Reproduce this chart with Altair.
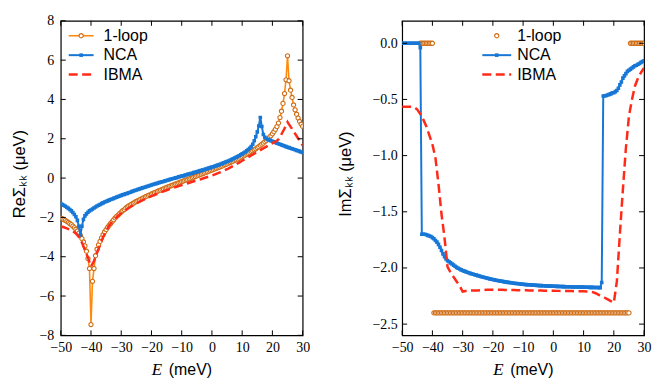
import altair as alt
import pandas as pd

# energy grid (meV)
E = [round(-50 + 0.5 * i, 1) for i in range(161)]
E_IBMA = list(range(-50, 31))

RE_1LOOP = [
    -2.03, -2.07, -2.11, -2.15, -2.20, -2.25, -2.31, -2.37, -2.44, -2.52,
    -2.60, -2.69, -2.80, -2.93, -3.08, -3.25, -3.45, -3.72, -4.10, -4.60,
    -7.45, -5.25, -4.60, -3.95, -3.62, -3.40, -3.22, -3.04, -2.88, -2.74,
    -2.62, -2.51, -2.41, -2.31, -2.22, -2.12, -2.03, -1.95, -1.88, -1.80,
    -1.73, -1.66, -1.60, -1.53, -1.47, -1.42, -1.37, -1.32, -1.28, -1.23,
    -1.19, -1.15, -1.11, -1.07, -1.03, -0.99, -0.95, -0.92, -0.88, -0.85,
    -0.81, -0.78, -0.74, -0.71, -0.68, -0.64, -0.61, -0.58, -0.55, -0.51,
    -0.48, -0.45, -0.42, -0.39, -0.36, -0.33, -0.30, -0.27, -0.24, -0.21,
    -0.18, -0.15, -0.12, -0.09, -0.07, -0.04, -0.01, 0.02, 0.05, 0.08,
    0.11, 0.14, 0.17, 0.20, 0.23, 0.26, 0.29, 0.32, 0.35, 0.38,
    0.41, 0.44, 0.47, 0.50, 0.53, 0.56, 0.59, 0.62, 0.66, 0.69,
    0.72, 0.76, 0.79, 0.83, 0.86, 0.90, 0.93, 0.97, 1.01, 1.05,
    1.09, 1.13, 1.17, 1.21, 1.25, 1.30, 1.35, 1.39, 1.44, 1.49,
    1.55, 1.60, 1.66, 1.72, 1.78, 1.85, 1.92, 1.99, 2.07, 2.15,
    2.25, 2.36, 2.48, 2.62, 2.80, 3.08, 3.40, 3.80, 4.30, 5.00,
    6.22, 4.95, 4.47, 4.10, 3.72, 3.47, 3.25, 3.05, 2.88, 2.74,
    2.63,
]

RE_NCA = [
    -1.30, -1.34, -1.38, -1.43, -1.48, -1.54, -1.60, -1.67, -1.75, -1.85,
    -1.97, -2.15, -2.45, -2.90, -2.45, -2.10, -1.92, -1.82, -1.74, -1.67,
    -1.62, -1.57, -1.52, -1.47, -1.42, -1.38, -1.34, -1.30, -1.26, -1.22,
    -1.19, -1.16, -1.12, -1.09, -1.06, -1.03, -1.00, -0.97, -0.94, -0.91,
    -0.88, -0.85, -0.83, -0.80, -0.78, -0.75, -0.72, -0.69, -0.66, -0.63,
    -0.61, -0.58, -0.55, -0.53, -0.50, -0.48, -0.45, -0.43, -0.40, -0.38,
    -0.35, -0.33, -0.30, -0.28, -0.26, -0.23, -0.21, -0.19, -0.17, -0.14,
    -0.12, -0.10, -0.08, -0.05, -0.03, -0.01, 0.01, 0.03, 0.06, 0.08,
    0.10, 0.12, 0.14, 0.17, 0.19, 0.21, 0.23, 0.25, 0.28, 0.30,
    0.32, 0.34, 0.37, 0.39, 0.41, 0.44, 0.46, 0.48, 0.51, 0.53,
    0.56, 0.58, 0.61, 0.64, 0.66, 0.69, 0.72, 0.75, 0.78, 0.81,
    0.84, 0.87, 0.91, 0.94, 0.98, 1.02, 1.06, 1.10, 1.14, 1.19,
    1.23, 1.28, 1.33, 1.39, 1.45, 1.52, 1.60, 1.72, 1.90, 2.10,
    2.35, 2.65, 3.08, 2.62, 2.22, 2.08, 2.00, 1.96, 1.93, 1.90,
    1.87, 1.84, 1.81, 1.78, 1.75, 1.72, 1.69, 1.66, 1.63, 1.60,
    1.57, 1.55, 1.52, 1.49, 1.47, 1.44, 1.41, 1.39, 1.36, 1.33,
    1.30,
]

RE_IBMA = [
    -2.45, -2.50, -2.56, -2.63, -2.70, -2.82, -3.00, -3.28, -3.66, -4.05,
    -4.50, -4.22, -3.80, -3.40, -3.00, -2.70, -2.42, -2.22, -2.06, -1.92,
    -1.79, -1.68, -1.57, -1.47, -1.38, -1.29, -1.21, -1.13, -1.06, -0.99,
    -0.92, -0.86, -0.79, -0.73, -0.67, -0.62, -0.56, -0.51, -0.46, -0.41,
    -0.36, -0.31, -0.26, -0.21, -0.16, -0.11, -0.07, -0.02, 0.03, 0.08,
    0.13, 0.19, 0.25, 0.31, 0.38, 0.45, 0.53, 0.61, 0.70, 0.79,
    0.88, 0.97, 1.06, 1.15, 1.24, 1.33, 1.42, 1.51, 1.60, 1.69,
    1.78, 1.85, 1.97, 2.23, 2.52, 2.85, 2.62, 2.38, 2.14, 1.90,
    1.66,
]

IM_1LOOP = [None] * 12 + [0.0] * 9 + [-2.4] * 130 + [0.0] * 10

IM_NCA = [
    0.0, 0.0, 0.0, 0.0, 0.0, 0.0, 0.0, 0.0, 0.0, 0.0,
    0.0, 0.0, -0.04, -1.70, -1.70, -1.70, -1.705, -1.71, -1.715, -1.72,
    -1.73, -1.74, -1.755, -1.77, -1.79, -1.815, -1.845, -1.875, -1.90, -1.92,
    -1.935, -1.945, -1.955, -1.965, -1.975, -1.985, -1.995, -2.003, -2.01, -2.017,
    -2.023, -2.028, -2.033, -2.038, -2.043, -2.048, -2.052, -2.056, -2.06, -2.064,
    -2.068, -2.072, -2.076, -2.08, -2.083, -2.087, -2.09, -2.094, -2.097, -2.10,
    -2.103, -2.106, -2.109, -2.112, -2.114, -2.117, -2.119, -2.122, -2.124, -2.126,
    -2.128, -2.13, -2.132, -2.134, -2.136, -2.138, -2.139, -2.141, -2.143, -2.144,
    -2.145, -2.147, -2.148, -2.149, -2.15, -2.151, -2.152, -2.153, -2.154, -2.155,
    -2.156, -2.157, -2.157, -2.158, -2.159, -2.16, -2.16, -2.161, -2.162, -2.162,
    -2.163, -2.163, -2.164, -2.164, -2.165, -2.165, -2.166, -2.166, -2.167, -2.167,
    -2.168, -2.168, -2.168, -2.169, -2.169, -2.17, -2.17, -2.17, -2.171, -2.171,
    -2.171, -2.172, -2.172, -2.172, -2.173, -2.173, -2.173, -2.174, -2.174, -2.174,
    -2.175, -2.175, -2.13, -0.47, -0.47, -0.465, -0.46, -0.455, -0.45, -0.44,
    -0.44, -0.43, -0.42, -0.40, -0.37, -0.345, -0.31, -0.29, -0.27, -0.25,
    -0.24, -0.23, -0.22, -0.21, -0.20, -0.195, -0.187, -0.18, -0.17, -0.162,
    -0.155,
]

IM_IBMA = [
    -0.565, -0.565, -0.565, -0.565, -0.57, -0.59, -0.63, -0.68, -0.74, -0.82,
    -0.90, -1.02, -1.25, -1.52, -1.73, -1.99, -2.04, -2.08, -2.12, -2.16,
    -2.21, -2.205, -2.20, -2.20, -2.20, -2.20, -2.198, -2.196, -2.195, -2.195,
    -2.195, -2.195, -2.195, -2.195, -2.196, -2.196, -2.197, -2.197, -2.198, -2.198,
    -2.199, -2.199, -2.20, -2.20, -2.20, -2.201, -2.201, -2.202, -2.202, -2.203,
    -2.203, -2.204, -2.204, -2.205, -2.205, -2.206, -2.206, -2.207, -2.207, -2.208,
    -2.208, -2.209, -2.21, -2.215, -2.225, -2.24, -2.25, -2.265, -2.28, -2.295,
    -2.31, -2.12, -1.70, -1.30, -0.93, -0.65, -0.50, -0.38, -0.31, -0.26,
    -0.22,
]

SERIES = ["1-loop", "NCA", "IBMA"]
X_TICKS = [-50, -40, -30, -20, -10, 0, 10, 20, 30]
RE_TICKS = [-8, -6, -4, -2, 0, 2, 4, 6, 8]
IM_TICKS = [-2.5, -2.0, -1.5, -1.0, -0.5, 0.0]

ORANGE = "#ff8a10"
ORANGE_EDGE = "#cf6c14"
BLUE = "#1777d6"
RED = "#ff2a18"
W, H = 243, 316
LABEL_FONT = "Liberation Serif"
LABEL_SIZE = 14
TEXT_FONT = "Liberation Sans"
DASH = [9, 4.5]


def panel(y_dom, y_ticks, y_fmt, y_lab_pad, v1, v2, v3, loop_line,
          ytitle, ytitle_x, leg_line, leg_mark, leg_text):
    xs = alt.Scale(domain=[-50, 30], nice=False, zero=False)
    ys = alt.Scale(domain=y_dom, nice=False, zero=False)
    xax = alt.Axis(values=X_TICKS, format="d", title=None, labelFlush=False,
                   labelOverlap=False, labelPadding=5, ticks=False, domain=False,
                   grid=False, labelFont=LABEL_FONT, labelFontSize=LABEL_SIZE,
                   labelColor="black")
    yax = alt.Axis(values=y_ticks, format=y_fmt, title=None, labelFlush=False,
                   labelOverlap=False, labelPadding=y_lab_pad, ticks=False,
                   domain=False, grid=False, labelFont=LABEL_FONT,
                   labelFontSize=LABEL_SIZE, labelColor="black")
    X = alt.X("E:Q", scale=xs, axis=xax)
    Y = alt.Y("v:Q", scale=ys, axis=yax)

    d1 = pd.DataFrame({"E": E, "v": v1})
    d2 = pd.DataFrame({"E": E, "v": v2})
    d3 = pd.DataFrame({"E": E_IBMA, "v": v3})

    layers = []
    if loop_line:
        layers.append(alt.Chart(d1).mark_line(color=ORANGE, strokeWidth=1.6,
                                              clip=True).encode(x=X, y=Y))
    layers.append(alt.Chart(d1).mark_point(shape="circle", filled=True,
                                           fill="white", stroke=ORANGE_EDGE,
                                           strokeWidth=1.1, size=18, opacity=1,
                                           clip=True).encode(x=X, y=Y))
    layers.append(alt.Chart(d2).mark_line(color=BLUE, strokeWidth=2,
                                          clip=True).encode(x=X, y=Y))
    layers.append(alt.Chart(d2).mark_point(shape="square", filled=True,
                                           color=BLUE, size=13, opacity=1,
                                           clip=True).encode(x=X, y=Y))
    layers.append(alt.Chart(d3).mark_line(color=RED, strokeWidth=2.5,
                                          strokeDash=DASH,
                                          clip=True).encode(x=X, y=Y))

    # inward ticks on all four sides
    xt = pd.DataFrame({"E": X_TICKS})
    yt = pd.DataFrame({"v": y_ticks})
    tk = dict(color="black", strokeWidth=1)
    layers.append(alt.Chart(xt).mark_rule(**tk).encode(
        x=X, y=alt.value(H), y2=alt.value(H - 5)))
    layers.append(alt.Chart(xt).mark_rule(**tk).encode(
        x=X, y=alt.value(0), y2=alt.value(5)))
    layers.append(alt.Chart(yt).mark_rule(**tk).encode(
        y=Y, x=alt.value(0), x2=alt.value(5)))
    layers.append(alt.Chart(yt).mark_rule(**tk).encode(
        y=Y, x=alt.value(W), x2=alt.value(W - 5)))

    # legend
    rows = [15, 34.5, 54]
    one = pd.DataFrame({"a": [0]})
    for i, name in enumerate(SERIES):
        yy = rows[i]
        if i == 0:
            if loop_line:
                layers.append(alt.Chart(one).mark_rule(
                    color=ORANGE, strokeWidth=1.6).encode(
                    x=alt.value(leg_line[0]), x2=alt.value(leg_line[1]),
                    y=alt.value(yy)))
            layers.append(alt.Chart(one).mark_point(
                shape="circle", filled=True, fill="white", stroke=ORANGE_EDGE,
                strokeWidth=1.1, size=18, opacity=1).encode(
                x=alt.value(leg_mark), y=alt.value(yy)))
        elif i == 1:
            layers.append(alt.Chart(one).mark_rule(
                color=BLUE, strokeWidth=2).encode(
                x=alt.value(leg_line[0]), x2=alt.value(leg_line[1]),
                y=alt.value(yy)))
            layers.append(alt.Chart(one).mark_point(
                shape="square", filled=True, color=BLUE, size=13,
                opacity=1).encode(x=alt.value(leg_mark), y=alt.value(yy)))
        else:
            layers.append(alt.Chart(one).mark_rule(
                color=RED, strokeWidth=2.5, strokeDash=DASH).encode(
                x=alt.value(leg_line[0]), x2=alt.value(leg_line[1]),
                y=alt.value(yy)))
        layers.append(alt.Chart(pd.DataFrame({"label": [name]})).mark_text(
            align="left", baseline="middle", font=TEXT_FONT, fontSize=16,
            color="black").encode(text="label:N", x=alt.value(leg_text),
                                  y=alt.value(yy)))

    # axis titles
    layers.append(alt.Chart(pd.DataFrame({"t": ["E"]})).mark_text(
        align="left", baseline="alphabetic", font="Liberation Serif",
        fontStyle="italic", fontSize=17, color="black").encode(
        text="t:N", x=alt.value(91.5), y=alt.value(H + 40)))
    layers.append(alt.Chart(pd.DataFrame({"t": ["(meV)"]})).mark_text(
        align="left", baseline="alphabetic", font=TEXT_FONT, fontSize=16,
        color="black").encode(text="t:N", x=alt.value(108.5),
                              y=alt.value(H + 40)))
    layers.append(alt.Chart(pd.DataFrame({"t": [ytitle]})).mark_text(
        align="center", baseline="middle", font=TEXT_FONT, fontSize=16.5,
        angle=270, color="black").encode(text="t:N", x=alt.value(ytitle_x),
                                         y=alt.value(154)))

    return alt.layer(*layers).properties(width=W, height=H)


left = panel([-8, 8], RE_TICKS, "d", 7, RE_1LOOP, RE_NCA, RE_IBMA, True,
             "Re\u03a3\u2096\u2096 (\u03bceV)", -41,
             (8, 33), 20.5, 43)
right = panel([-2.6, 0.2], IM_TICKS, ".1f", 5, IM_1LOOP, IM_NCA, IM_IBMA,
              False, "Im\u03a3\u2096\u2096 (\u03bceV)", -56,
              (80.5, 109.5), 95, 115.5)

chart = alt.hconcat(left, right, spacing=100, bounds="flush").properties(
    padding={"left": 3, "top": 4, "right": 5, "bottom": 5},
    background="white",
).configure_view(stroke="black", strokeWidth=1.2).configure_axis(
    labelFont=LABEL_FONT, labelFontSize=LABEL_SIZE, labelColor="black"
)

chart.save("out.html", embed_options={"renderer": "svg", "actions": False})
